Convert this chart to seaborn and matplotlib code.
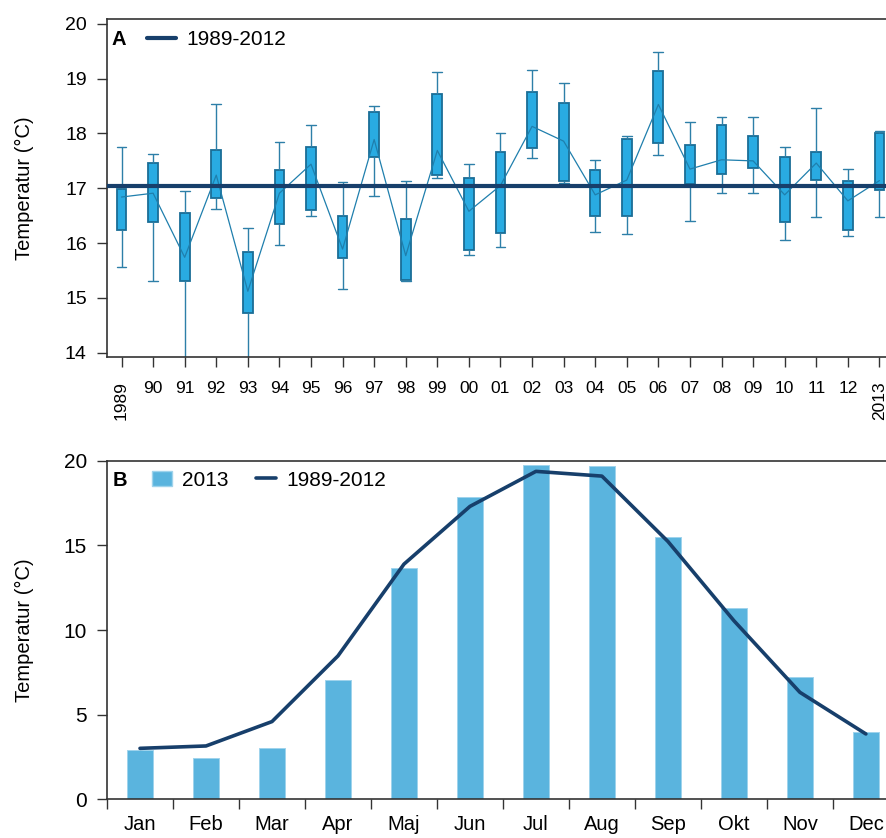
import numpy as np
import pandas as pd
import matplotlib
matplotlib.use("Agg")
import matplotlib.pyplot as plt
from matplotlib.lines import Line2D
from matplotlib.patches import Patch
import seaborn as sns

# ---------------- data ----------------
year_labels = ['1989', '90', '91', '92', '93', '94', '95', '96', '97', '98', '99', '00',
               '01', '02', '03', '04', '05', '06', '07', '08', '09', '10', '11', '12', '2013']
whisker_high = [17.76, 17.62, 16.95, 18.53, 16.27, 17.85, 18.15, 17.12, 18.50, 17.14, 19.12, 17.44,
                18.00, 19.15, 18.93, 17.52, 17.96, 19.49, 18.21, 18.31, 18.31, 17.75, 18.47, 17.35, 18.05]
box_high = [16.99, 17.47, 16.54, 17.69, 15.83, 17.33, 17.75, 16.49, 18.39, 16.43, 18.72, 17.19,
            17.67, 18.75, 18.55, 17.34, 17.90, 19.14, 17.79, 18.16, 17.96, 17.57, 17.66, 17.14, 18.00]
mid_value = [16.84, 16.91, 15.74, 17.24, 15.12, 16.91, 17.44, 15.89, 17.89, 15.77, 17.69, 16.58,
             17.05, 18.13, 17.86, 16.88, 17.15, 18.53, 17.35, 17.52, 17.50, 16.88, 17.46, 16.77, 17.14]
box_low = [16.23, 16.38, 15.30, 16.83, 14.73, 16.34, 16.60, 15.72, 17.57, 15.33, 17.24, 15.87,
           16.18, 17.73, 17.14, 16.50, 16.50, 17.82, 17.08, 17.26, 17.37, 16.39, 17.16, 16.23, 16.96]
whisker_low = [15.56, 15.30, 13.85, 16.62, 13.85, 15.96, 16.50, 15.17, 16.86, 15.31, 17.18, 15.78,
               15.93, 17.55, 17.10, 16.21, 16.16, 17.60, 16.40, 16.91, 16.92, 16.05, 16.48, 16.12, 16.48]
mean_1989_2012 = 17.05

months = ['Jan', 'Feb', 'Mar', 'Apr', 'Maj', 'Jun', 'Jul', 'Aug', 'Sep', 'Okt', 'Nov', 'Dec']
temp_2013 = [2.94, 2.46, 3.03, 7.03, 13.66, 17.85, 19.76, 19.70, 15.51, 11.31, 7.23, 3.98]
temp_1989_2012 = [3.01, 3.15, 4.59, 8.47, 13.89, 17.30, 19.37, 19.09, 15.23, 10.55, 6.32, 3.86]

# ---------------- style ----------------
sns.set_style("ticks")
plt.rcParams['font.family'] = ['Liberation Sans', 'DejaVu Sans']
plt.rcParams.update({'text.color': 'black', 'axes.labelcolor': 'black',
                     'xtick.labelcolor': 'black', 'ytick.labelcolor': 'black'})

BOX_FILL = '#29abe2'
BOX_EDGE = '#1a6d96'
WHISK = '#2d7fa8'
THIN = '#1f7fad'
NAVY = '#173f6b'
BAR = '#5ab4de'
SPINE = '#333333'

fig = plt.figure(figsize=(8.87, 8.38), dpi=100)
W, H = 887, 838
axA = fig.add_axes([107 / W, 1 - 357 / H, 1 - 107 / W, (357 - 19) / H])
axB = fig.add_axes([107 / W, 1 - 799.3 / H, 1 - 107 / W, (799.3 - 460.7) / H])

# ---------------- panel A ----------------
rows = []
for i, lab in enumerate(year_labels):
    for v in (whisker_low[i], box_low[i], mid_value[i], box_high[i], whisker_high[i]):
        rows.append({'year': lab, 'temp': v})
dfA = pd.DataFrame(rows)

sns.boxplot(data=dfA, x='year', y='temp', order=year_labels, ax=axA,
            whis=(0, 100), width=0.31, color=BOX_FILL, saturation=1,
            linecolor=BOX_EDGE, linewidth=1.2, showfliers=False,
            boxprops={'facecolor': BOX_FILL, 'edgecolor': BOX_EDGE, 'linewidth': 1.3},
            whiskerprops={'color': WHISK, 'linewidth': 1.0},
            capprops={'color': WHISK, 'linewidth': 1.0},
            medianprops={'linewidth': 0},
            capwidths=0.31)
sns.lineplot(x=np.arange(len(year_labels)), y=mid_value, ax=axA, color=THIN,
             linewidth=0.9, zorder=4)
axA.axhline(mean_1989_2012, color=NAVY, linewidth=3.0, zorder=5)

axA.set_xlim(-0.46, 24.24)
axA.set_ylim(13.92, 20.09)
axA.set_yticks([14, 15, 16, 17, 18, 19, 20])
axA.set_xticks(np.arange(len(year_labels)))
axA.set_xticklabels(year_labels)
for i, t in enumerate(axA.get_xticklabels()):
    if i == 0 or i == len(year_labels) - 1:
        t.set_rotation(90)
axA.tick_params(axis='x', labelsize=12.5, direction='out', length=7.5, width=1, color=SPINE, pad=10)
axA.tick_params(axis='y', labelsize=14, direction='out', length=7.5, width=1, color=SPINE, pad=7)
axA.set_xlabel('')
axA.set_ylabel('Temperatur (°C)', fontsize=14.5)
axA.yaxis.set_label_coords(-0.0936, 0.5)

axA.text(0.0064, 0.938, 'A', transform=axA.transAxes, fontsize=14.5, fontweight='bold',
         va='center', ha='left')
axA.legend(handles=[Line2D([0], [0], color=NAVY, lw=3.0)], labels=['1989-2012'],
           loc='center left', bbox_to_anchor=(0.0513, 0.938), frameon=False,
           borderpad=0, borderaxespad=0, handlelength=1.4, handletextpad=0.5,
           fontsize=15)

# ---------------- panel B ----------------
sns.barplot(x=months, y=temp_2013, order=months, ax=axB, color=BAR, saturation=1,
            width=0.39, edgecolor='#9fd3ec', linewidth=0.7)
sns.lineplot(x=np.arange(len(months)), y=temp_1989_2012, ax=axB, color=NAVY,
             linewidth=2.6, zorder=5)
axB.set_xlim(-0.5, 11.32)
axB.set_ylim(0, 20)
axB.set_yticks([0, 5, 10, 15, 20])
major_pos = np.arange(-0.5, 11, 1.0)
axB.set_xticks(major_pos)
axB.set_xticklabels([''] * len(major_pos))
axB.set_xticks(np.arange(len(months)), minor=True)
axB.set_xticklabels(months, minor=True)
axB.tick_params(axis='x', which='major', direction='out', length=7.5, width=1, color=SPINE)
axB.tick_params(axis='x', which='minor', length=0, labelsize=14.5, pad=11)
axB.tick_params(axis='y', labelsize=15, direction='out', length=7.5, width=1, color=SPINE, pad=7)
axB.set_xlabel('')
axB.set_ylabel('Temperatur (°C)', fontsize=14.5)
axB.yaxis.set_label_coords(-0.0936, 0.5)

axB.text(0.0077, 0.943, 'B', transform=axB.transAxes, fontsize=14.5, fontweight='bold',
         va='center', ha='left')
axB.legend(handles=[Patch(facecolor=BAR, edgecolor='#9fd3ec'), Line2D([0], [0], color=NAVY, lw=2.6)],
           labels=['2013', '1989-2012'], ncol=2,
           loc='center left', bbox_to_anchor=(0.0577, 0.943), frameon=False,
           borderpad=0, borderaxespad=0, handlelength=0.95, handletextpad=0.5,
           columnspacing=1.3, fontsize=15)

for ax in (axA, axB):
    for side in ('left', 'bottom', 'top'):
        ax.spines[side].set_visible(True)
        ax.spines[side].set_color(SPINE)
        ax.spines[side].set_linewidth(1.2)
    ax.spines['right'].set_visible(False)
    ax.grid(False)

fig.savefig('out.png', dpi=100)
